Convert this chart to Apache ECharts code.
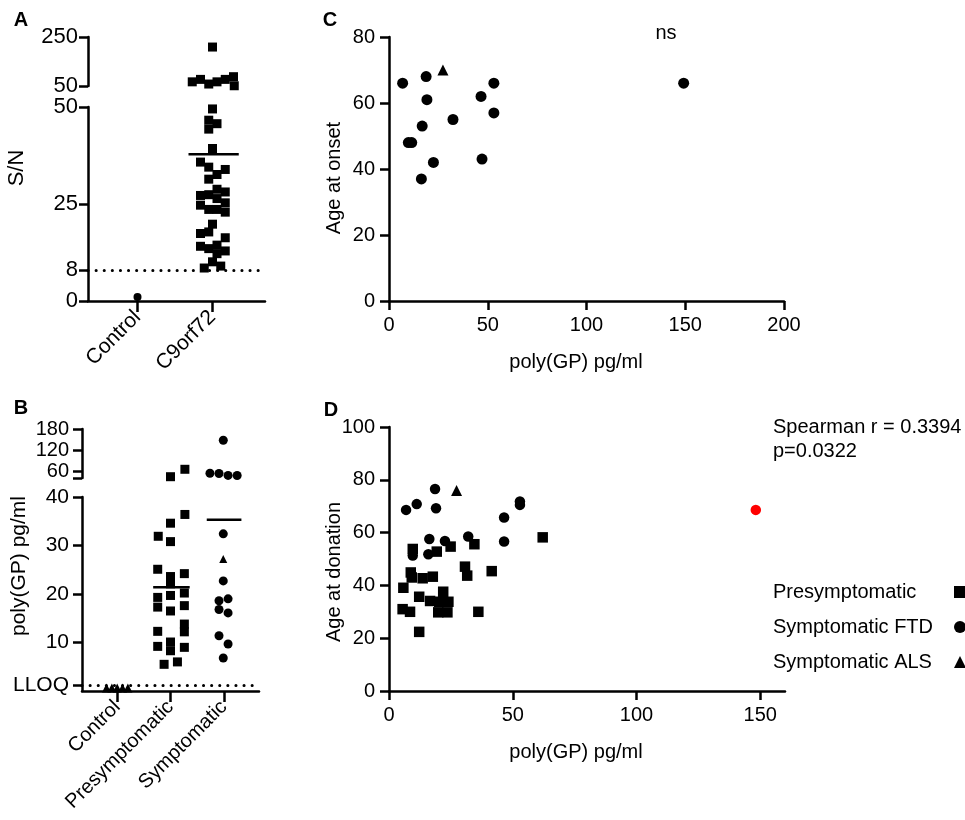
<!DOCTYPE html>
<html>
<head>
<meta charset="utf-8">
<script src="https://cdn.jsdelivr.net/npm/echarts@6/dist/echarts.min.js"></script>
<style>
  html, body { margin: 0; padding: 0; background: #fff; }
  #chart { width: 965px; height: 820px; }
</style>
</head>
<body>
<div id="chart"></div>
<script>
"use strict"
const FONT = 'Arial, "Liberation Sans", sans-serif';

// panel A: S/N per group, points are [jitter position, value]
const aGroups = ['Control', 'C9orf72'];
const aBreak = 50;
const aThreshold = 8;
const aControl = [[0, 1]];
const aC9orf72 = [
    [1.0, 209],
    [0.73, 67], [0.84, 77], [0.95, 58], [1.06, 67], [1.17, 77], [1.28, 88], [1.29, 51],
    [1.0, 49.5], [0.95, 46.6], [1.06, 45.7], [0.95, 44.3], [1.0, 39.3],
    [0.84, 35.8], [0.95, 34.5], [1.17, 33.9], [1.06, 32.6], [0.95, 31.4],
    [1.06, 28.8], [1.17, 28.1], [0.84, 27.2], [0.95, 27.4], [1.06, 26.4], [1.17, 25.3],
    [0.84, 24.7], [0.95, 23.6], [1.06, 23.6], [1.17, 22.9], [1.0, 19.8],
    [0.84, 17.4], [0.95, 17.8], [1.17, 16.3], [0.84, 14.1], [0.95, 13.5], [1.06, 14.4],
    [1.06, 12.2], [1.17, 12.9], [1.0, 10.1], [0.89, 8.5], [1.11, 9.0]
];

// panel B: poly(GP) pg/ml per group
const bGroups = ['Control', 'Presymptomatic', 'Symptomatic'];
const bBreak = 40;
const bLLOQ = 1.1;
const bControl = [[-0.2, 0.6], [-0.1, 0.6], [0, 0.6], [0.1, 0.6], [0.2, 0.6]];
const bPresymptomatic = [
    [1.0, 43.7], [1.27, 64.9], [1.27, 36.4], [1.0, 34.6], [0.77, 31.9], [1.0, 30.8],
    [0.76, 25.1], [1.0, 23.6], [1.26, 24.2], [1.0, 22.1], [0.76, 19.3], [1.0, 19.7], [1.26, 20.2],
    [0.76, 17.3], [1.0, 16.5], [1.26, 17.6], [1.26, 13.8], [1.26, 12.2], [0.76, 12.3],
    [1.0, 10.1], [1.0, 8.3], [0.76, 9.2], [1.26, 9.0], [0.88, 5.5], [1.13, 6.0]
];
const bSymptomaticFTD = [
    [1.99, 148], [1.74, 53.5], [1.91, 53], [2.08, 47.5], [2.25, 47],
    [1.99, 32.4], [1.99, 22.7], [1.91, 18.6], [2.08, 19.0], [1.91, 16.8], [2.08, 16.1],
    [1.91, 11.4], [2.08, 9.7], [1.99, 6.8]
];
const bSymptomaticALS = [[1.99, 27.2]];

// panel C: poly(GP) vs age at onset
const cFTD = [
    [6.9, 66], [18.8, 68], [19.2, 61], [16.8, 53], [9.8, 48], [11.5, 48], [22.5, 42],
    [16.4, 37], [32.4, 55], [46.6, 62], [53.1, 66], [53.1, 57], [47.1, 43], [149.2, 66]
];
const cALS = [[27.3, 70]];

// panel D: poly(GP) vs age at donation
const dPresymptomatic = [
    [9.6, 53.8], [19.3, 52.8], [24.9, 54.7], [34.5, 55.6], [62.1, 58.2], [8.8, 44.9],
    [9.2, 43.0], [13.6, 42.7], [17.7, 43.3], [30.7, 47.1], [31.6, 43.7], [41.5, 45.4],
    [5.8, 39.1], [12.2, 35.7], [16.6, 34.1], [21.9, 37.6], [20.3, 33.8], [24.0, 33.8],
    [5.5, 31.0], [8.5, 30.0], [19.9, 29.8], [23.6, 29.8], [36.1, 30.0], [12.2, 22.4]
];
const dFTD = [
    [18.6, 76.5], [11.2, 70.8], [6.9, 68.6], [19.0, 69.2], [52.9, 71.8], [52.9, 70.5],
    [46.5, 65.7], [46.5, 56.6], [16.3, 57.6], [22.6, 56.8], [32.0, 58.5], [9.6, 51.3], [15.9, 51.8]
];
const dFTDOutlier = [[148.2, 68.6]];
const dALS = [[27.3, 75.9]];

const chart = echarts.init(document.getElementById('chart'));

const hi = (pts, brk) => pts.filter(p => p[1] > brk);
const lo = (pts, brk) => pts.filter(p => p[1] <= brk);
const mean = pts => pts.reduce((s, p) => s + p[1], 0) / pts.length;

function yAx(grid, min, max, ticks, labels, margin, size, fmt) {
    return {
        type: 'value', gridIndex: grid, min: min, max: max,
        axisLine: { show: true, onZero: false, lineStyle: { color: '#000', width: 2.5 } },
        axisTick: { show: true, length: 9, lineStyle: { color: '#000', width: 2.5 }, customValues: ticks },
        axisLabel: { color: '#000', fontSize: size, fontFamily: FONT, margin: margin, customValues: labels, formatter: fmt },
        splitLine: { show: false }
    };
}
function xAx(grid, min, max, ticks, opts) {
    opts = opts || {};
    return {
        type: 'value', gridIndex: grid, min: min, max: max, show: opts.hidden ? false : true,
        axisLine: { show: true, onZero: false, lineStyle: { color: '#000', width: 2.5 } },
        axisTick: { show: true, length: opts.tickLen || 9, lineStyle: { color: '#000', width: 2.5 }, customValues: ticks },
        axisLabel: {
            color: '#000', fontSize: opts.size || 20, fontFamily: FONT, margin: opts.margin || 12,
            rotate: opts.rotate || 0, customValues: ticks, formatter: opts.fmt
        },
        splitLine: { show: false }
    };
}
function dots(x, y, size, symbol, data, color) {
    return {
        type: 'scatter', xAxisIndex: x, yAxisIndex: y, symbol: symbol, symbolSize: size,
        itemStyle: { color: color || '#000', opacity: 1 }, data: data, silent: true
    };
}
function meanLine(x, y, from, to, value) {
    return {
        type: 'line', xAxisIndex: x, yAxisIndex: y, symbol: 'none', silent: true,
        lineStyle: { color: '#000', width: 2.5 }, data: [[from, value], [to, value]]
    };
}
function dottedAt(x, y, value) {
    return {
        type: 'line', xAxisIndex: x, yAxisIndex: y, data: [], silent: true,
        markLine: {
            symbol: 'none', silent: true, label: { show: false },
            lineStyle: { color: '#000', width: 3, type: [0.1, 8], cap: 'round' },
            data: [{ yAxis: value }]
        }
    };
}

const aMean = mean(aC9orf72);
const bPreMean = mean(bPresymptomatic);
const bSymMean = mean(bSymptomaticFTD.concat(bSymptomaticALS));

const grids = [
    { left: 88, top: 37, width: 177, height: 49 },
    { left: 88, top: 107, width: 177, height: 194 },
    { left: 82, top: 429, width: 177, height: 49 },
    { left: 82, top: 497, width: 177, height: 194 },
    { left: 389, top: 37, width: 395, height: 264 },
    { left: 389, top: 427, width: 396, height: 264 }
].map(g => Object.assign({ outerBoundsMode: 'none', containLabel: false }, g));

function txt(x, y, text, opts) {
    opts = opts || {};
    return {
        type: 'text', x: x, y: y, rotation: opts.rot || 0, silent: true,
        style: {
            text: text, fill: '#000',
            font: (opts.bold ? 'bold ' : '') + (opts.size || 20) + 'px ' + FONT,
            textAlign: opts.align || 'center', align: opts.align || 'center',
            textVerticalAlign: 'middle', verticalAlign: 'middle'
        }
    };
}

const option = {
    animation: false,
    backgroundColor: '#fff',
    grid: grids,
    xAxis: [
        xAx(0, -0.66, 1.7, [0, 1], { hidden: true }),
        xAx(1, -0.66, 1.7, [0, 1], { rotate: 45, tickLen: 11, margin: 13, size: 21, fmt: v => aGroups[Math.round(v)] }),
        xAx(2, -0.66, 2.66, [0, 1, 2], { hidden: true }),
        xAx(3, -0.66, 2.66, [0, 1, 2], { rotate: 45, tickLen: 11, margin: 13, size: 20, fmt: v => bGroups[Math.round(v)] }),
        xAx(4, 0, 200, [0, 50, 100, 150, 200], { margin: 14 }),
        xAx(5, 0, 160, [0, 50, 100, 150], { margin: 14 })
    ],
    yAxis: [
        yAx(0, aBreak, 250, [50, 250], [50, 250], 10, 22),
        yAx(1, 0, aBreak, [0, 8, 25, 50], [0, 8, 25, 50], 10, 22),
        yAx(2, bBreak, 180, [40, 60, 120, 180], [60, 120, 180], 13, 20),
        yAx(3, 0, bBreak, [bLLOQ, 10, 20, 30, 40], [bLLOQ, 10, 20, 30, 40], 13, 21,
            v => Math.abs(v - bLLOQ) < 1e-6 ? 'LLOQ' : String(v)),
        yAx(4, 0, 80, [0, 20, 40, 60, 80], [0, 20, 40, 60, 80], 14, 20),
        yAx(5, 0, 100, [0, 20, 40, 60, 80, 100], [0, 20, 40, 60, 80, 100], 14, 20)
    ],
    legend: {
        orient: 'vertical', left: 768, top: 577, align: 'right', selectedMode: false,
        itemWidth: 12, itemHeight: 12, itemGap: 15,
        formatter: name => '{n|' + name + '}',
        textStyle: {
            color: '#000', fontSize: 20, fontFamily: FONT, lineHeight: 20,
            rich: { n: { width: 176, align: 'left', fontSize: 20, fontFamily: FONT, color: '#000' } }
        },
        data: [
            { name: 'Presymptomatic', icon: 'rect' },
            { name: 'Symptomatic FTD', icon: 'circle' },
            { name: 'Symptomatic ALS', icon: 'triangle' }
        ]
    },
    series: [
        // A
        dottedAt(1, 1, aThreshold),
        dots(1, 1, 8, 'circle', aControl),
        dots(0, 0, 9, 'rect', hi(aC9orf72, aBreak)),
        dots(1, 1, 9, 'rect', lo(aC9orf72, aBreak)),
        meanLine(1, 1, 0.68, 1.35, aMean),
        // B
        dottedAt(3, 3, bLLOQ),
        dots(3, 3, 9, 'triangle', bControl),
        dots(2, 2, 9, 'rect', hi(bPresymptomatic, bBreak)),
        dots(3, 3, 9, 'rect', lo(bPresymptomatic, bBreak)),
        dots(2, 2, 9, 'circle', hi(bSymptomaticFTD, bBreak)),
        dots(3, 3, 9, 'circle', lo(bSymptomaticFTD, bBreak)),
        dots(3, 3, 8, 'triangle', bSymptomaticALS),
        meanLine(3, 3, 0.675, 1.36, bPreMean),
        meanLine(3, 3, 1.68, 2.33, bSymMean),
        // C
        dots(4, 4, 11, 'circle', cFTD),
        dots(4, 4, 11, 'triangle', cALS),
        // D
        Object.assign(dots(5, 5, 10.5, 'rect', dPresymptomatic), { name: 'Presymptomatic' }),
        Object.assign(dots(5, 5, 10.5, 'circle', dFTD.concat(
            dFTDOutlier.map(p => ({ value: p, itemStyle: { color: '#ff0000' } })))), { name: 'Symptomatic FTD' }),
        Object.assign(dots(5, 5, 11, 'triangle', dALS), { name: 'Symptomatic ALS' })
    ],
    graphic: [
        txt(21, 20, 'A', { bold: true }),
        txt(21, 408, 'B', { bold: true }),
        txt(330, 20, 'C', { bold: true }),
        txt(331, 410, 'D', { bold: true }),
        txt(17, 168, 'S/N', { rot: Math.PI / 2, size: 22 }),
        txt(19, 566, 'poly(GP) pg/ml', { rot: Math.PI / 2, size: 21 }),
        txt(334, 178, 'Age at onset', { rot: Math.PI / 2 }),
        txt(576, 362, 'poly(GP) pg/ml'),
        txt(334, 572, 'Age at donation', { rot: Math.PI / 2 }),
        txt(576, 752, 'poly(GP) pg/ml'),
        txt(666, 33, 'ns'),
        txt(773, 427, 'Spearman r = 0.3394', { align: 'left' }),
        txt(773, 451, 'p=0.0322', { align: 'left' })
    ]
};

chart.setOption(option);
</script>
</body>
</html>
